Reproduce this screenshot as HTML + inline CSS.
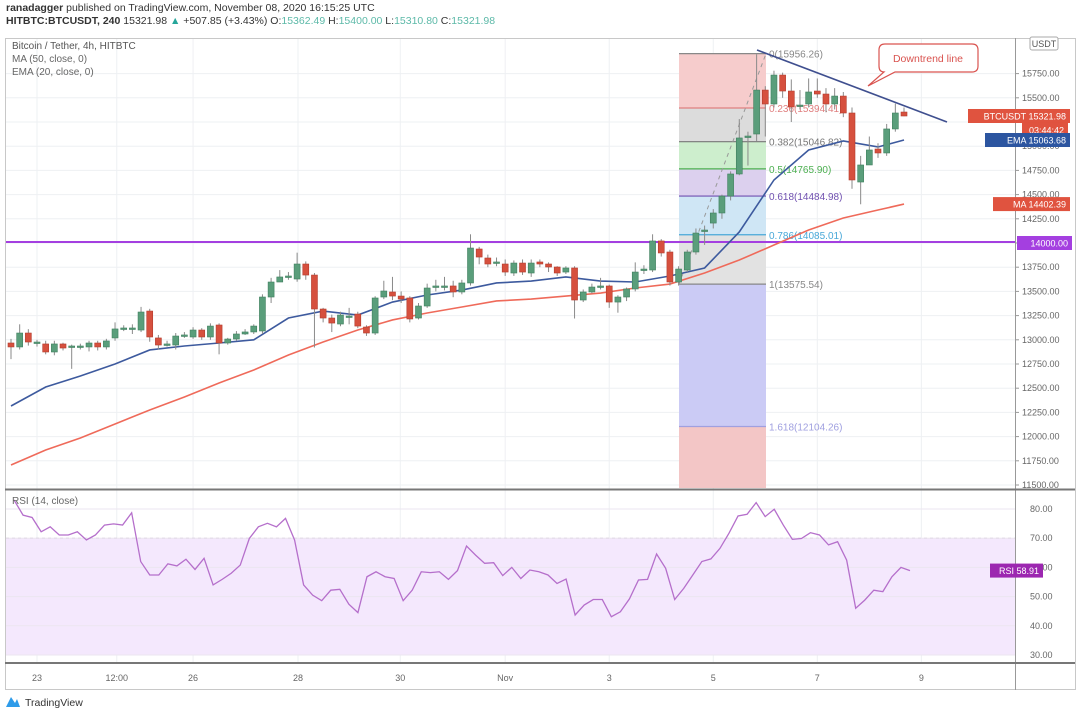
<!DOCTYPE html>
<html><head><meta charset="utf-8">
<style>
html,body{margin:0;padding:0;background:#fff;}
svg{display:block;font-family:"Liberation Sans",sans-serif;}
</style></head>
<body>
<svg id="chart" width="1080" height="713" viewBox="0 0 1080 713" xmlns="http://www.w3.org/2000/svg">
<rect x="0" y="0" width="1080" height="713" fill="#fff"/>
<text x="6" y="11" font-size="10.5" fill="#333"><tspan font-weight="bold">ranadagger</tspan> published on TradingView.com, November 08, 2020 16:15:25 UTC</text>
<text x="6" y="24" font-size="10.5" fill="#333"><tspan font-weight="bold">HITBTC:BTCUSDT, 240</tspan> 15321.98 <tspan fill="#26a69a">▲</tspan> +507.85 (+3.43%) O:<tspan fill="#5cb9a8">15362.49</tspan> H:<tspan fill="#5cb9a8">15400.00</tspan> L:<tspan fill="#5cb9a8">15310.80</tspan> C:<tspan fill="#5cb9a8">15321.98</tspan></text>
<rect x="5.5" y="38.5" width="1070" height="651" fill="none" stroke="#c8c8c8"/>
<g id="grid"></g>
<g id="rsiband"></g>
<g id="fib"></g>
<line x1="6" y1="242" x2="1015" y2="242" stroke="#a43fe0" stroke-width="2"/>
<g id="lines"></g>
<g id="candles"></g>
<g id="rsi"></g>
<line x1="757" y1="50" x2="947" y2="122" stroke="#3f4f8f" stroke-width="1.6"/>
<g>
<path d="M890,44 H972 Q978,44 978,50 V66 Q978,72 972,72 H895 L868,86 L884,72 Q879,72 879,66 V50 Q879,44 885,44 Z" fill="#fff" stroke="#d9534f" stroke-width="1.2"/>
<text x="928" y="62" font-size="10.5" fill="#d9534f" text-anchor="middle">Downtrend line</text>
</g>
<line x1="1015.5" y1="38" x2="1015.5" y2="690" stroke="#999" stroke-width="1"/>
<line x1="5" y1="489.5" x2="1075" y2="489.5" stroke="#777" stroke-width="2"/>
<line x1="5" y1="663" x2="1075" y2="663" stroke="#777" stroke-width="2"/>
<g id="axis"></g>
<text x="12" y="49" font-size="10" fill="#555">Bitcoin / Tether, 4h, HITBTC</text>
<text x="12" y="62" font-size="10" fill="#666">MA (50, close, 0)</text>
<text x="12" y="75" font-size="10" fill="#666">EMA (20, close, 0)</text>
<text x="12" y="504" font-size="10" fill="#666">RSI (14, close)</text>
<g><rect x="1030" y="37" width="28" height="13" rx="2" fill="#fff" stroke="#aaa"/><text x="1044" y="47" font-size="9" fill="#555" text-anchor="middle">USDT</text></g>
<g>
<path d="M6,707 L11,697 L15,703 L17,699 L20,707 Z" fill="#2e9be9"/>
<text x="25" y="706" font-size="10.5" fill="#333">TradingView</text>
</g>
</svg>
<script>
const opens=[12967,12926,13070,12967,12957,12874,12957,12926,12926,12926,12967,12926,13019,13112,13112,13101,13297,13019,12946,12946,13039,13029,13101,13029,13153,12967,13008,13060,13081,13091,13442,13597,13649,13628,13783,13669,13318,13225,13163,13235,13266,13132,13070,13442,13494,13452,13432,13225,13349,13545,13545,13556,13494,13587,13938,13845,13793,13783,13690,13793,13690,13804,13783,13752,13700,13742,13411,13494,13545,13556,13390,13442,13525,13721,13721,14021,13907,13597,13721,13907,14124,14206,14310,14485,14713,15095,15126,15580,15436,15735,15570,15415,15436,15570,15539,15436,15518,15343,14630,14806,14971,14930,15178,15353];
const closes=[12926,13070,12977,12977,12874,12957,12915,12936,12936,12967,12926,12988,13112,13122,13122,13287,13029,12946,12957,13039,13050,13101,13029,13142,12967,13008,13060,13081,13142,13442,13597,13649,13659,13783,13669,13318,13225,13173,13256,13246,13142,13070,13432,13504,13452,13421,13215,13349,13535,13556,13556,13494,13587,13948,13855,13783,13804,13700,13793,13700,13793,13783,13752,13690,13742,13411,13494,13545,13556,13390,13442,13525,13700,13731,14021,13897,13597,13731,13907,14103,14134,14310,14485,14713,15085,15105,15580,15436,15735,15570,15405,15425,15560,15539,15436,15518,15343,14651,14806,14961,14930,15178,15343,15312];
const highs=[13010,13160,13110,13000,12990,12990,12970,12950,12960,12990,12990,13010,13180,13150,13160,13340,13320,13050,12990,13070,13080,13130,13120,13170,13170,13020,13090,13110,13160,13470,13640,13720,13700,13900,13810,13690,13330,13260,13290,13330,13290,13150,13450,13610,13650,13500,13450,13380,13580,13620,13650,13610,13620,14090,13960,13880,13850,13830,13820,13830,13830,13830,13800,13760,13760,13760,13520,13580,13640,13570,13460,13540,13800,13770,14090,14040,13930,13760,13930,14150,14180,14350,14500,14740,15280,15150,15950,15620,15780,15760,15690,15580,15700,15700,15600,15600,15560,15400,14900,15100,15030,15230,15440,15400];
const lows=[12800,12900,12940,12930,12850,12840,12890,12700,12900,12880,12890,12900,12990,13090,13060,13080,12980,12900,12930,12900,13020,13010,13000,13000,12850,12950,12990,13050,13060,13060,13380,13600,13620,13600,13620,12920,13180,13080,13140,13160,13120,13040,13050,13420,13410,13380,13180,13210,13330,13500,13510,13440,13470,13560,13780,13750,13760,13660,13660,13670,13650,13750,13700,13660,13680,13220,13390,13480,13520,13330,13280,13400,13500,13680,13700,13860,13560,13560,13700,13880,13980,14150,14250,14440,14700,14800,15050,15100,15400,15500,15250,15380,15400,15500,15350,15380,15300,14560,14400,14830,14880,14900,15150,15310];
const maIdx=[0,4,8,12,16,20,24,28,32,36,40,44,48,52,56,60,64,68,72,76,80,84,88,92,96,100,103];
const maVals=[11707,11862,11986,12130,12275,12409,12554,12688,12843,12977,13101,13205,13277,13339,13401,13421,13452,13483,13535,13576,13690,13824,13979,14134,14258,14341,14402];
const emaVals=[12316,12512,12626,12750,12895,12936,12967,13000,13225,13297,13256,13390,13463,13514,13587,13607,13649,13607,13597,13659,13742,14114,14651,14961,15054,14992,15064];
const rsiVals=[83.1,77.9,77.1,72.2,73.9,71.1,71.1,72.2,69.4,71.1,74.5,74.9,74.5,78.7,62.0,57.4,57.4,61.2,60.5,62.8,59.3,63.1,54.0,55.9,58.0,60.8,69.9,73.9,75.1,73.9,76.8,69.4,54.0,50.5,48.6,52.2,52.5,47.4,44.5,56.8,58.5,56.8,56.2,48.6,52.2,58.5,58.2,58.5,55.9,58.9,67.3,64.2,61.4,61.6,57.2,60.0,56.2,59.1,58.5,57.4,54.5,56.0,43.7,47.1,49.0,49.0,43.1,44.8,49.2,55.7,55.9,64.6,59.7,49.0,52.8,57.4,62.0,62.9,66.5,71.7,77.6,78.2,82.2,77.4,79.9,74.5,69.6,69.9,71.9,71.1,67.7,68.8,62.5,46.0,48.8,52.2,51.7,56.8,60.0,58.91];
const priceTicks=[15750,15500,15250,15000,14750,14500,14250,14000,13750,13500,13250,13000,12750,12500,12250,12000,11750,11500];
const rsiTicks=[80,70,60,50,40,30];
const timeLabels=["23","12:00","26","28","30","Nov","3","5","7","9"];
const timeIdx=[3.0,12.2,21.0,33.1,44.9,57.0,69.0,81.0,93.0,105.0];
const fibRatios=[0,0.236,0.382,0.5,0.618,0.786,1,1.618];
const fibHigh=15956.26, fibLow=13575.54;

const NS="http://www.w3.org/2000/svg";
function mk(t,a,p){const e=document.createElementNS(NS,t);for(const k in a)e.setAttribute(k,a[k]);p.appendChild(e);return e;}
const X=i=>11+i*8.67;
const Y=p=>485-(p-11500)*0.0968;
const RX=i=>14+i*(896/(rsiVals.length-1));
const RY=r=>655-(r-30)*2.92;

const grid=document.getElementById('grid');
const axis=document.getElementById('axis');
priceTicks.forEach(p=>{
  const l=mk('line',{x1:6,x2:1015,y1:Y(p),y2:Y(p),stroke:'#eef0f3'},grid);
  
  
  const t=mk('text',{x:1022,y:Y(p)+3,'font-size':9,fill:'#666'},axis);
  
  
  t.textContent=p.toFixed(2);
  mk('line',{x1:1015,x2:1019,y1:Y(p),y2:Y(p),stroke:'#999'},axis);
});
timeIdx.forEach((ti,k)=>{
  const x=X(ti);
  const l=mk('line',{x1:x,x2:x,y1:39,y2:663,stroke:'#eef0f3'},grid);
  
  
  const t=mk('text',{x:x,y:681,'font-size':9,fill:'#666','text-anchor':'middle'},axis);
  
  
  t.textContent=timeLabels[k];
});
const band=document.getElementById('rsiband');
const br=mk('rect',{x:6,y:RY(70),width:1009,height:RY(30)-RY(70),fill:'#f4e8fd'},band);


[70,30].forEach(v=>{const l=mk('line',{x1:6,x2:1015,y1:RY(v),y2:RY(v),stroke:'#b9a6c9','stroke-dasharray':'3,3'},band);
  
  });
rsiTicks.forEach(r=>{
  const l=mk('line',{x1:6,x2:1015,y1:RY(r),y2:RY(r),stroke:'#ebe6f0'},band);
  
  
  const t=mk('text',{x:1030,y:RY(r)+3,'font-size':9,fill:'#666'},axis);
  
  
  t.textContent=r.toFixed(2);
});
const fib=document.getElementById('fib');
const fx1=679,fx2=766;
const fibFill=['#f6cccc','#dcdcdc','#cdeecd','#dcd0ee','#cfe6f5','#e2e2e2','#cbcbf5'];
const fibLine=['#888','#e08080','#777','#4caf50','#7050b0','#48a8d8','#888','#a0a0e0'];
const lv=fibRatios.map(r=>fibHigh-(fibHigh-fibLow)*r);
for(let k=0;k<lv.length-1;k++){
  const r=mk('rect',{x:fx1,y:Y(lv[k]),width:fx2-fx1,height:Y(lv[k+1])-Y(lv[k]),fill:fibFill[k]},fib);
  
  
}
const rb=mk('rect',{x:fx1,y:Y(lv[lv.length-1]),width:fx2-fx1,height:488-Y(lv[lv.length-1]),fill:'#f3c6c6'},fib);


lv.forEach((p,k)=>{
  const l=mk('line',{x1:fx1,x2:fx2,y1:Y(p),y2:Y(p),stroke:fibLine[k],'stroke-width':1.2},fib);
  
  
  const t=mk('text',{x:fx2+3,y:Y(p)+4,'font-size':10,fill:fibLine[k]},fib);
  
  
  t.textContent=fibRatios[k]+'('+p.toFixed(2)+')';
});
const fd=mk('line',{x1:fx1,y1:Y(fibLow),x2:fx2,y2:Y(fibHigh),stroke:'#999','stroke-dasharray':'4,4'},fib);


const lines=document.getElementById('lines');
const ma=mk('polyline',{points:maIdx.map((i,k)=>X(i)+','+Y(maVals[k])).join(' '),fill:'none',stroke:'#ef6a5a','stroke-width':1.6},lines);


const ema=mk('polyline',{points:maIdx.map((i,k)=>X(i)+','+Y(emaVals[k])).join(' '),fill:'none',stroke:'#3d5a9e','stroke-width':1.6},lines);


const cg=document.getElementById('candles');
opens.forEach((o,i)=>{
  const c=closes[i],up=c>=o,x=X(i);
  const g=mk('g',{},cg);
  
  
  mk('line',{x1:x,x2:x,y1:Y(highs[i]),y2:Y(lows[i]),stroke:'#8a8a8a','stroke-width':1},g);
  const top=Y(Math.max(o,c)),h=Math.max(1.5,Math.abs(Y(o)-Y(c)));
  mk('rect',{x:x-3,y:top,width:6,height:h,fill:up?'#5a9e7b':'#d6503e',stroke:up?'#3f7f5e':'#b33c2d','stroke-width':0.6},g);
});
const rg=document.getElementById('rsi');
const rl=mk('polyline',{points:rsiVals.map((r,i)=>RX(i)+','+RY(r)).join(' '),fill:'none',stroke:'#b56fcb','stroke-width':1.3},rg);


function tag(y,w,color,txt,name,x0){
  const g=mk('g',{},axis);
  
  
  mk('rect',{x:x0,y:y-7,width:w,height:14,fill:color},g);
  const t=mk('text',{x:x0+w-4,y:y+3.5,'font-size':9,fill:'#fff','text-anchor':'end'},g);
  t.textContent=txt;
}
tag(Y(closes[closes.length-1]),102,'#e0533f','BTCUSDT   15321.98','last-price-label',968);
tag(Y(closes[closes.length-1])+14,46,'#e0533f','03:44:42','countdown-label',1022);
tag(Y(emaVals[emaVals.length-1]),85,'#2c55a0','EMA   15063.68','ema-price-label',985);
tag(Y(maVals[maVals.length-1]),77,'#e0533f','MA   14402.39','ma-price-label',993);
tag(Y(14000),55,'#a43fe0','14000.00','level-price-label',1017);
tag(RY(rsiVals[rsiVals.length-1]),53,'#9c27b0','RSI   58.91','rsi-value-label',990);
</script>
</body></html>
